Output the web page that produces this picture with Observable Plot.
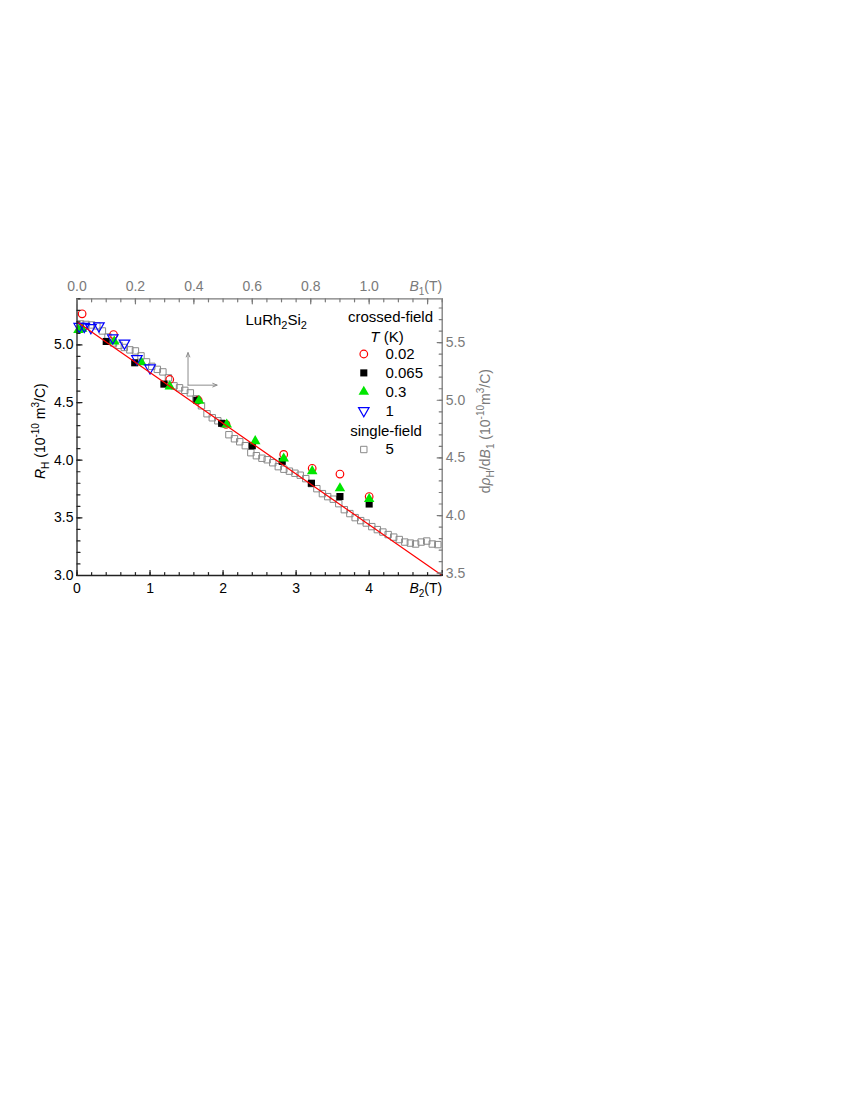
<!DOCTYPE html>
<html><head><meta charset="utf-8">
<script src="https://cdn.jsdelivr.net/npm/d3@7"></script>
<script src="https://cdn.jsdelivr.net/npm/@observablehq/plot@0.6"></script>
<style>
body{margin:0;background:#fff;}
#chart svg{display:block;}
</style></head><body><div id="chart"></div>
<script>
// ---------- data ----------
// crossed-field, T = 0.02 K  (B2 in T, R_H in 1e-10 m^3/C)
const b2_T002  = [0.07, 0.50, 1.27, 1.66, 2.04, 2.83, 3.22, 3.60, 4.00];
const rh_T002  = [5.27, 5.09, 4.70, 4.52, 4.31, 4.05, 3.93, 3.88, 3.685];
// crossed-field, T = 0.065 K
const b2_T0065 = [0.40, 0.79, 1.19, 1.64, 1.98, 2.40, 2.81, 3.21, 3.60, 4.00];
const rh_T0065 = [5.03, 4.845, 4.66, 4.52, 4.32, 4.125, 3.99, 3.80, 3.685, 3.62];
// crossed-field, T = 0.3 K
const b2_T03   = [0.02, 0.07, 0.51, 0.88, 1.27, 1.67, 2.05, 2.44, 2.83, 3.22, 3.60, 4.00];
const rh_T03   = [5.13, 5.14, 5.03, 4.85, 4.64, 4.515, 4.31, 4.165, 4.015, 3.905, 3.756, 3.664];
// crossed-field, T = 1 K
const b2_T1    = [0.03, 0.10, 0.19, 0.30, 0.49, 0.65, 0.82, 1.00];
const rh_T1    = [5.16, 5.16, 5.15, 5.165, 5.06, 5.015, 4.88, 4.80];
// single-field, T = 5 K  (B1 in T, dρH/dB1 in 1e-10 m^3/C)
const b1_T5 = [0.012,0.031,0.050,0.068,0.087,0.106,0.125,0.144,0.162,0.181,0.200,0.219,0.238,0.256,0.275,0.294,0.313,0.332,0.351,0.369,0.388,0.407,0.426,0.445,0.463,0.482,0.501,0.520,0.539,0.557,0.576,0.595,0.614,0.633,0.651,0.670,0.689,0.708,0.727,0.746,0.764,0.783,0.802,0.821,0.840,0.858,0.877,0.896,0.915,0.934,0.952,0.971,0.990,1.009,1.028,1.047,1.065,1.084,1.103,1.122,1.141,1.159,1.178,1.197,1.216,1.235];
const drho_T5 = [5.662,5.658,5.653,5.645,5.601,5.549,5.497,5.476,5.458,5.437,5.428,5.385,5.333,5.294,5.268,5.246,5.194,5.125,5.108,5.086,5.064,5.012,4.952,4.883,4.848,4.822,4.796,4.701,4.666,4.640,4.606,4.545,4.519,4.497,4.484,4.458,4.424,4.402,4.385,4.367,4.350,4.320,4.277,4.233,4.190,4.164,4.142,4.103,4.051,4.017,3.982,3.956,3.935,3.904,3.878,3.857,3.835,3.813,3.792,3.770,3.761,3.753,3.770,3.779,3.753,3.748];
// linear fit (red line)
const fitB2 = [0, 5];
const fitRH = [5.20, 3.00];
// field-direction arrows (annotation)
const arrowX1 = [1.52, 1.52];
const arrowY1 = [4.651, 4.651];
const arrowX2 = [1.52, 1.918];
const arrowY2 = [4.933, 4.651];

// axis tick values
const bottomLabels = [0, 1, 2, 3, 4];
const bottomMajor  = [0, 1, 2, 3, 4, 5];
const leftLabels   = [3.0, 3.5, 4.0, 4.5, 5.0];
const topLabels    = [0.0, 0.2, 0.4, 0.6, 0.8, 1.0];
const topMajor     = [0.0, 0.2, 0.4, 0.6, 0.8, 1.0, 1.2];
const rightLabels  = [3.5, 4.0, 4.5, 5.0, 5.5];

// legend
const crossedTemps = ["0.02", "0.065", "0.3", "1"];
const singleTemps  = ["5"];

// relation between the paired axes
const B_RATIO = 4;          // B2 axis value = 4 * B1 axis value
const RIGHT_OFFSET = 0.48;  // right axis value = left axis value + offset

// ---------- helpers ----------
const zip = (xs, ys) => xs.map((x, i) => ({x, y: ys[i]}));
const triDown = {
  draw(context, size) {
    const s = Math.sqrt(4 * size / Math.sqrt(3));
    const h = s * Math.sqrt(3) / 2;
    context.moveTo(-s / 2, -h / 3);
    context.lineTo(s / 2, -h / 3);
    context.lineTo(0, 2 * h / 3);
    context.closePath();
  }
};
const tickLine = {draw(context, l) { context.moveTo(0, 0); context.lineTo(0, -l); }};
const RED = "#ff0000", GREEN = "#00e600", BLUE = "#0000ff", GRAY = "#8a8a8a";
const AXDARK = "#222", AXGRAY = "#7a7a7a";
const FS = 14;

// inward tick marks along a frame side
function ticks(values, side, len, stroke) {
  const rot = {bottom: 0, top: 180, left: 90, right: -90}[side];
  const horiz = side === "bottom" || side === "top";
  return Plot.vector(values, {
    [horiz ? "x" : "y"]: d => d,
    frameAnchor: side, length: len, rotate: rot, anchor: "start",
    shape: tickLine, stroke, strokeWidth: 1.2
  });
}

const styles = {
  T002:  {symbol: "circle",   r: 3.8, stroke: RED,   fill: "none",  strokeWidth: 1.2},
  T0065: {symbol: "square",   r: 4.0, stroke: "none", fill: "#000"},
  T03:   {symbol: "triangle", r: 3.9, stroke: "none", fill: GREEN},
  T1:    {symbol: triDown,    r: 3.9, stroke: BLUE,  fill: "none",  strokeWidth: 1.2},
  T5:    {symbol: "square",   r: 3.6, stroke: GRAY,  fill: "none",  strokeWidth: 1}
};

const sf = b1_T5.map((b, i) => ({b1: b, v: drho_T5[i]}));
const LEG = {frameAnchor: "top-left", textAnchor: "middle", lineAnchor: "middle", fontSize: 15, fill: "#000"};

const marks = [
  // single-field data on B1 / dρH/dB1 axes
  Plot.dot(sf, {x: d => d.b1 * B_RATIO, y: d => d.v - RIGHT_OFFSET, ...styles.T5}),
  Plot.dot(zip(b2_T002, rh_T002), {x: "x", y: "y", ...styles.T002}),
  Plot.dot(zip(b2_T0065, rh_T0065), {x: "x", y: "y", ...styles.T0065}),
  Plot.dot(zip(b2_T03, rh_T03), {x: "x", y: "y", ...styles.T03}),
  Plot.dot(zip(b2_T1, rh_T1), {x: "x", y: "y", ...styles.T1}),
  Plot.line(zip(fitB2, fitRH), {x: "x", y: "y", stroke: RED, strokeWidth: 1.2}),
  Plot.arrow(arrowX1.map((x, i) => ({x1: x, y1: arrowY1[i], x2: arrowX2[i], y2: arrowY2[i]})),
    {x1: "x1", y1: "y1", x2: "x2", y2: "y2", stroke: "#8c8c8c", strokeWidth: 1, headLength: 7, headAngle: 45}),

  // spines
  Plot.ruleY([5.4], {stroke: AXGRAY, strokeWidth: 1.3}),
  Plot.ruleX([5], {stroke: AXGRAY, strokeWidth: 1.3}),
  Plot.ruleX([0], {stroke: AXDARK, strokeWidth: 1.3}),
  Plot.ruleY([3], {stroke: AXDARK, strokeWidth: 1.3}),

  // bottom axis (B2)
  Plot.axisX(bottomLabels, {anchor: "bottom", tickSize: 0, tickPadding: 8, fill: "#000", fontSize: FS, label: null, tickFormat: d3.format("d")}),
  ticks(bottomMajor, "bottom", 5, AXDARK),
  ticks(d3.range(0, 5.001, 0.2), "bottom", 3, AXDARK),
  // left axis (R_H)
  Plot.axisY(leftLabels, {anchor: "left", tickSize: 0, tickPadding: 3.5, fill: "#000", fontSize: FS, label: null, tickFormat: d3.format(".1f")}),
  ticks(leftLabels, "left", 5, AXDARK),
  ticks(d3.range(3, 5.401, 0.1), "left", 3, AXDARK),
  // top axis (B1)
  Plot.axisX(topLabels.map(v => v * B_RATIO), {anchor: "top", tickSize: 0, tickPadding: 7.5, fill: AXGRAY, fontSize: FS, label: null, tickFormat: d => (d / B_RATIO).toFixed(1)}),
  ticks(topMajor.map(v => v * B_RATIO), "top", 5, AXGRAY),
  ticks(d3.range(0, 1.2501, 0.05).map(v => v * B_RATIO), "top", 3, AXGRAY),
  // right axis (dρH/dB1)
  Plot.axisY(rightLabels.map(v => v - RIGHT_OFFSET), {anchor: "right", tickSize: 0, tickPadding: 3.5, fill: AXGRAY, fontSize: FS, label: null, tickFormat: d => (d + RIGHT_OFFSET).toFixed(1)}),
  ticks(rightLabels.map(v => v - RIGHT_OFFSET), "right", 5, AXGRAY),
  ticks(d3.range(3.5, 5.8501, 0.1).map(v => v - RIGHT_OFFSET), "right", 3, AXGRAY),

  // axis titles (rich formatting applied after render)
  Plot.text(["B2(T)"], {frameAnchor: "bottom-right", textAnchor: "end", lineAnchor: "bottom", dy: 17.7, fontSize: FS, fill: "#000"}),
  Plot.text(["B1(T)"], {frameAnchor: "top-right", textAnchor: "end", lineAnchor: "bottom", dy: -7.6, fontSize: FS, fill: AXGRAY}),
  Plot.text(["RH (10-10 m3/C)"], {frameAnchor: "left", textAnchor: "middle", lineAnchor: "middle", rotate: -90, dx: -36, dy: -6, fontSize: FS, fill: "#000"}),
  Plot.text(["dρH/dB1 (10-10m3/C)"], {frameAnchor: "right", textAnchor: "middle", lineAnchor: "middle", rotate: -90, dx: 43.5, dy: -6, fontSize: FS, fill: AXGRAY}),
  Plot.text(["LuRh2Si2"], {...LEG, textAnchor: "start", dx: 168.5, dy: 21}),

  // legend
  Plot.text(["crossed-field"], {...LEG, dx: 313.5, dy: 18.4}),
  Plot.text(["T (K)"], {...LEG, dx: 310, dy: 38.4}),
  Plot.text(["single-field"], {...LEG, dx: 309, dy: 132.7}),
];
const legendStyles = [styles.T002, styles.T0065, styles.T03, styles.T1];
crossedTemps.forEach((t, i) => {
  const dy = 55.2 + i * 18.9;
  marks.push(Plot.dot([t], {frameAnchor: "top-left", dx: 286.8, dy, ...legendStyles[i]}));
  marks.push(Plot.text([t], {...LEG, textAnchor: "start", dx: 308.5, dy}));
});
singleTemps.forEach((t) => {
  const dy = 150.7;
  marks.push(Plot.dot([t], {frameAnchor: "top-left", dx: 286.8, dy, ...styles.T5}));
  marks.push(Plot.text([t], {...LEG, textAnchor: "start", dx: 308.5, dy}));
});

const svg = Plot.plot({
  width: 850,
  height: 1100,
  marginLeft: 76.5,
  marginRight: 408.3,
  marginTop: 298.3,
  marginBottom: 525,
  style: {fontFamily: "'Liberation Sans', Arial, sans-serif", fontSize: FS + "px", background: "#fff", color: "#000"},
  x: {domain: [0, 5], axis: null},
  y: {domain: [3, 5.4], axis: null},
  marks
});

// rich text (italics, sub- and superscripts)
const S = (t) => `<tspan font-size="10" dy="4">${t}</tspan>`;
const rich = {
  "B2(T)": `<tspan font-style="italic">B</tspan>${S("2")}<tspan dy="-4">(T)</tspan>`,
  "B1(T)": `<tspan font-style="italic">B</tspan>${S("1")}<tspan dy="-4">(T)</tspan>`,
  "RH (10-10 m3/C)": `<tspan font-style="italic">R</tspan>${S("H")}<tspan dy="-4"> (10</tspan><tspan font-size="10" dy="-6">-10</tspan><tspan dy="6"> m</tspan><tspan font-size="10" dy="-6">3</tspan><tspan dy="6">/C)</tspan>`,
  "dρH/dB1 (10-10m3/C)": `<tspan>d</tspan><tspan font-style="italic">ρ</tspan>${S("H")}<tspan dy="-4">/d</tspan><tspan font-style="italic">B</tspan>${S("1")}<tspan dy="-4"> (10</tspan><tspan font-size="10" dy="-6">-10</tspan><tspan dy="6">m</tspan><tspan font-size="10" dy="-6">3</tspan><tspan dy="6">/C)</tspan>`,
  "LuRh2Si2": `<tspan>LuRh</tspan><tspan font-size="11" dy="4">2</tspan><tspan dy="-4">Si</tspan><tspan font-size="11" dy="4">2</tspan>`,
  "T (K)": `<tspan font-style="italic">T</tspan><tspan> (K)</tspan>`
};
svg.querySelectorAll("text").forEach(el => {
  const k = el.textContent;
  if (rich[k] && el.children.length === 0) el.innerHTML = rich[k];
});
document.getElementById("chart").appendChild(svg);
</script>
</body></html>
